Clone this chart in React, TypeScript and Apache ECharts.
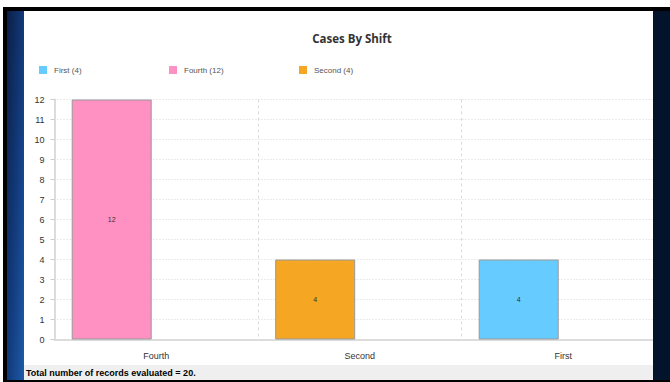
import React, { useEffect, useRef } from "react";
import * as echarts from "echarts";

const categories = ["Fourth", "Second", "First"];
const fourthValues = [12, "-", "-"];
const secondValues = ["-", 4, "-"];
const firstValues = ["-", "-", 4];
const legendNames = ["First (4)", "Fourth (12)", "Second (4)"];
const yMin = 0;
const yMax = 12;
const yInterval = 1;
const titleText = "Cases By Shift";
const footerText = "Total number of records evaluated = 20.";

const PINK = "#FF91C2";
const ORANGE = "#F5A623";
const BLUE = "#66CCFF";

export default function App() {
  const ref = useRef<HTMLDivElement>(null);
  useEffect(() => {
    if (!ref.current) return;
    const chart = echarts.init(ref.current, null, { renderer: "svg" });
    const font = "'Liberation Sans', Arial, sans-serif";
    const barCommon = {
      type: "bar",
      stack: "total",
      barWidth: 80,
      barGap: "11.4%",
      itemStyle: { borderColor: "#999", borderWidth: 1 },
      label: {
        show: true,
        position: "inside",
        fontSize: 7,
        color: "#333",
        fontFamily: font,
      },
    };
    const legendCommon = {
      top: 66,
      padding: 0,
      itemWidth: 12,
      itemHeight: 8,
      icon: "path://M0,0H8V8H0Z",
      itemStyle: { borderWidth: 0 },
      textStyle: { fontSize: 8, color: "#555", fontFamily: font },
      selectedMode: false,
    };
    chart.setOption({
      animation: false,
      backgroundColor: "#fff",
      legend: [
        { ...legendCommon, left: 39, data: [legendNames[0]] },
        { ...legendCommon, left: 169, data: [legendNames[1]] },
        { ...legendCommon, left: 299, data: [legendNames[2]] },
      ],
      grid: { left: 54.5, top: 99.5, width: 610.5, height: 240, containLabel: false },
      xAxis: {
        type: "category",
        data: categories,
        axisLine: { show: true, lineStyle: { color: "#dcdcdc", width: 2 } },
        axisTick: { show: false },
        axisLabel: { fontSize: 9, color: "#333", margin: 12, fontFamily: font },
        splitLine: { show: true, lineStyle: { type: [3, 3], color: "#dadada" } },
      },
      yAxis: {
        type: "value",
        min: yMin,
        max: yMax,
        interval: yInterval,
        axisLine: { show: true, lineStyle: { color: "#dcdcdc", width: 2 } },
        axisTick: { show: true, length: 4, lineStyle: { color: "#ccc" } },
        axisLabel: { fontSize: 9, color: "#333", margin: 10, fontFamily: font },
        splitLine: { show: true, lineStyle: { type: [1, 2], color: "#d6d6d6" } },
      },
      series: [
        { ...barCommon, name: legendNames[1], data: fourthValues, itemStyle: { ...barCommon.itemStyle, color: PINK } },
        { ...barCommon, name: legendNames[2], data: secondValues, itemStyle: { ...barCommon.itemStyle, color: ORANGE } },
        { ...barCommon, name: legendNames[0], data: firstValues, itemStyle: { ...barCommon.itemStyle, color: BLUE } },
        { type: "bar", name: "pad", barWidth: 80, barGap: "11.4%", data: ["-", "-", "-"] },
      ],
      graphic: [
        {
          type: "text",
          x: 352,
          y: 38,
          z: 50,
          style: {
            text: titleText,
            fontSize: 11.5,
            fontWeight: "bold",
            fill: "#333",
            fontFamily: "'Open Sans', sans-serif",
            textAlign: "center",
            textVerticalAlign: "middle",
          },
        },
        { type: "rect", z: 50, shape: { x: 24, y: 365, width: 629, height: 15 }, style: { fill: "#efefef" } },
        {
          type: "text",
          x: 26,
          y: 373,
          z: 51,
          style: {
            text: footerText,
            fontSize: 9,
            fontWeight: "bold",
            fill: "#000",
            fontFamily: font,
            textVerticalAlign: "middle",
          },
        },
        { type: "rect", z: 100, shape: { x: 3, y: 7, width: 667, height: 4 }, style: { fill: "#000" } },
        { type: "rect", z: 100, shape: { x: 3, y: 7, width: 4, height: 375 }, style: { fill: "#000" } },
        {
          type: "rect",
          z: 100,
          shape: { x: 7, y: 11, width: 17, height: 371 },
          style: {
            fill: new echarts.graphic.LinearGradient(0, 0, 1, 1, [
              { offset: 0, color: "#0b1f45" },
              { offset: 0.5, color: "#12397a" },
              { offset: 1, color: "#1d5aa8" },
            ]),
          },
        },
        { type: "rect", z: 100, shape: { x: 653, y: 11, width: 17, height: 371 }, style: { fill: "#03132b" } },
        { type: "rect", z: 100, shape: { x: 3, y: 380, width: 667, height: 2 }, style: { fill: "#000" } },
      ],
    });
    return () => chart.dispose();
  }, []);
  return (
    <div
      ref={ref}
      style={{ position: "fixed", left: 0, top: 0, width: 670, height: 382 }}
    />
  );
}
